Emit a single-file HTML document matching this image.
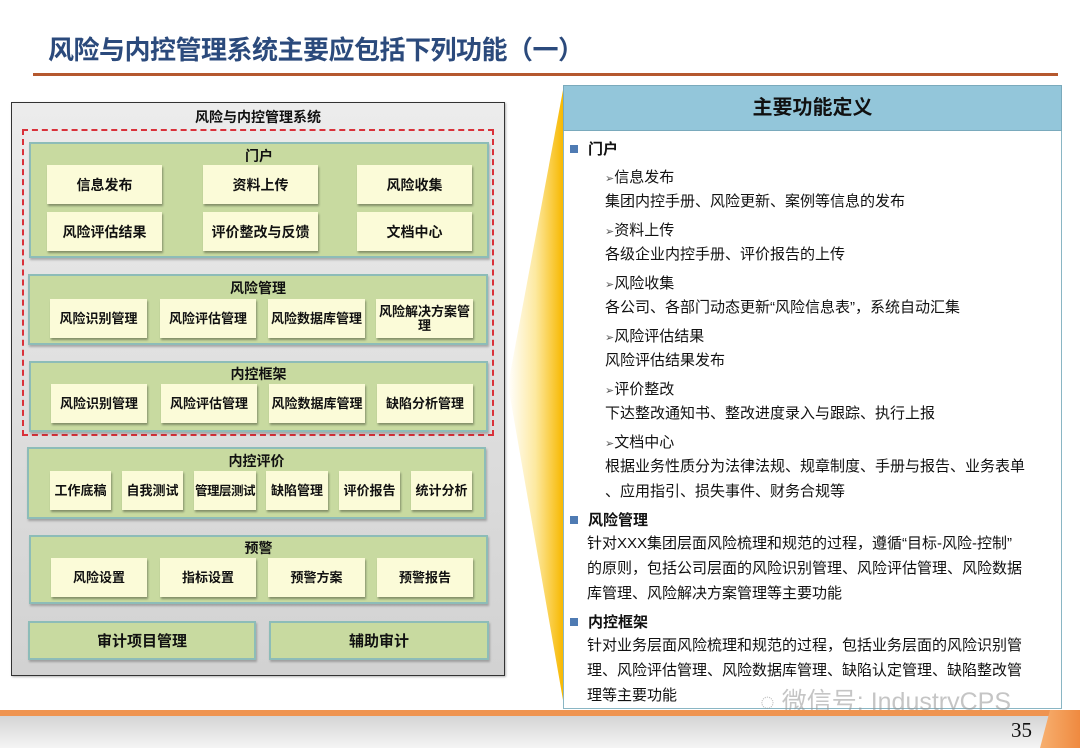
<!DOCTYPE html>
<html><head><meta charset="utf-8"><style>
*{margin:0;padding:0;box-sizing:border-box}
body{width:1080px;height:748px;position:relative;background:#fff;font-family:"Liberation Sans","Noto Sans CJK SC",sans-serif;overflow:hidden;color:#111}
.a{position:absolute}
.title{left:48px;top:30px;font-size:26px;font-weight:bold;color:#2b4a7c;letter-spacing:-0.5px}
.panel{position:absolute;background:#c8daa0;border:2px solid #8dbcb8;box-shadow:1px 2px 2px rgba(0,0,0,.25)}
.pl{position:absolute;left:0;right:0;text-align:center;font-weight:bold;font-size:14px}
.b{position:absolute;background:#fbfbd8;box-shadow:1px 2px 2px rgba(0,0,0,.35);display:flex;align-items:center;justify-content:center;text-align:center;font-weight:bold;font-size:13px;line-height:14px}
.big{font-size:14px}
.r{position:absolute;font-size:15px;color:#111;white-space:nowrap}
.h{font-weight:bold}
.sq{display:inline-block;width:8px;height:8px;background:#4f7bb3;margin-right:10px;vertical-align:1px}
</style></head><body>
<div class="a title">风险与内控管理系统主要应包括下列功能（一）</div>
<div class="a" style="left:33px;top:73px;width:1025px;height:3px;background:#b5582e"></div>

<svg class="a" style="left:500px;top:85px" width="70" height="625">
<defs><linearGradient id="g" x1="0" x2="1"><stop offset="0" stop-color="#fff"/><stop offset=".5" stop-color="#fde9a0"/><stop offset="1" stop-color="#f7b800"/></linearGradient></defs>
<polygon points="63,5 63,615 8,300" fill="url(#g)"/>
</svg>

<div class="a" style="left:11px;top:102px;width:494px;height:574px;background:linear-gradient(#ececec,#d2d2d2);border:1.5px solid #333;box-shadow:1px 1px 2px rgba(0,0,0,.3)"></div>
<div class="a" style="left:11px;top:107px;width:494px;text-align:center;font-weight:bold;font-size:14px">风险与内控管理系统</div>
<div class="a" style="left:22px;top:129px;width:472px;height:307px;border:2px dashed #d9313a"></div>

<div class="panel" style="left:29px;top:142px;width:460px;height:116px"><div class="pl" style="top:2px">门户</div></div>
<div class="b big" style="left:47px;top:165px;width:115px;height:39px">信息发布</div>
<div class="b big" style="left:203px;top:165px;width:115px;height:39px">资料上传</div>
<div class="b big" style="left:357px;top:165px;width:115px;height:39px">风险收集</div>
<div class="b big" style="left:47px;top:212px;width:115px;height:39px">风险评估结果</div>
<div class="b big" style="left:203px;top:212px;width:115px;height:39px">评价整改与反馈</div>
<div class="b big" style="left:357px;top:212px;width:115px;height:39px">文档中心</div>

<div class="panel" style="left:28px;top:274px;width:460px;height:71px"><div class="pl" style="top:2px">风险管理</div></div>
<div class="b" style="left:50px;top:299px;width:97px;height:39px">风险识别管理</div>
<div class="b" style="left:160px;top:299px;width:96px;height:39px">风险评估管理</div>
<div class="b" style="left:268px;top:299px;width:97px;height:39px">风险数据库管理</div>
<div class="b" style="left:376px;top:299px;width:97px;height:39px">风险解决方案管<br>理</div>

<div class="panel" style="left:29px;top:361px;width:459px;height:71px"><div class="pl" style="top:1px">内控框架</div></div>
<div class="b" style="left:51px;top:384px;width:96px;height:39px">风险识别管理</div>
<div class="b" style="left:161px;top:384px;width:96px;height:39px">风险评估管理</div>
<div class="b" style="left:269px;top:384px;width:96px;height:39px">风险数据库管理</div>
<div class="b" style="left:377px;top:384px;width:96px;height:39px">缺陷分析管理</div>

<div class="panel" style="left:27px;top:447px;width:459px;height:72px"><div class="pl" style="top:2px">内控评价</div></div>
<div class="b" style="left:50px;top:471px;width:61px;height:39px">工作底稿</div>
<div class="b" style="left:122px;top:471px;width:61px;height:39px">自我测试</div>
<div class="b" style="left:194px;top:471px;width:62px;height:39px;white-space:nowrap;font-size:12.5px;letter-spacing:-0.5px">管理层测试</div>
<div class="b" style="left:266px;top:471px;width:62px;height:39px">缺陷管理</div>
<div class="b" style="left:339px;top:471px;width:61px;height:39px">评价报告</div>
<div class="b" style="left:411px;top:471px;width:61px;height:39px">统计分析</div>

<div class="panel" style="left:29px;top:535px;width:459px;height:69px"><div class="pl" style="top:1px">预警</div></div>
<div class="b" style="left:51px;top:558px;width:96px;height:39px">风险设置</div>
<div class="b" style="left:160px;top:558px;width:96px;height:39px">指标设置</div>
<div class="b" style="left:268px;top:558px;width:97px;height:39px">预警方案</div>
<div class="b" style="left:377px;top:558px;width:96px;height:39px">预警报告</div>

<div class="panel" style="left:28px;top:621px;width:228px;height:39px;display:flex;align-items:center;justify-content:center;font-weight:bold;font-size:15px">审计项目管理</div>
<div class="panel" style="left:269px;top:621px;width:220px;height:39px;display:flex;align-items:center;justify-content:center;font-weight:bold;font-size:15px">辅助审计</div>

<div class="a" style="left:563px;top:85px;width:499px;height:624px;background:#fff;border:1.5px solid #8ab6c4"></div>
<div class="a" style="left:563px;top:85px;width:499px;height:46px;background:#93c6da;border:1.5px solid #7aaabc;text-align:center;line-height:44px;font-size:20px;font-weight:bold">主要功能定义</div>

<div class="r h" style="left:570px;top:138px"><span class="sq"></span>门户</div>
<div class="r" style="left:605px;top:166px"><span style="font-size:11px;color:#555">➢</span>信息发布</div>
<div class="r" style="left:605px;top:190px">集团内控手册、风险更新、案例等信息的发布</div>
<div class="r" style="left:605px;top:219px"><span style="font-size:11px;color:#555">➢</span>资料上传</div>
<div class="r" style="left:605px;top:243px">各级企业内控手册、评价报告的上传</div>
<div class="r" style="left:605px;top:272px"><span style="font-size:11px;color:#555">➢</span>风险收集</div>
<div class="r" style="left:605px;top:296px">各公司、各部门动态更新“风险信息表”，系统自动汇集</div>
<div class="r" style="left:605px;top:325px"><span style="font-size:11px;color:#555">➢</span>风险评估结果</div>
<div class="r" style="left:605px;top:349px">风险评估结果发布</div>
<div class="r" style="left:605px;top:378px"><span style="font-size:11px;color:#555">➢</span>评价整改</div>
<div class="r" style="left:605px;top:402px">下达整改通知书、整改进度录入与跟踪、执行上报</div>
<div class="r" style="left:605px;top:431px"><span style="font-size:11px;color:#555">➢</span>文档中心</div>
<div class="r" style="left:605px;top:455px">根据业务性质分为法律法规、规章制度、手册与报告、业务表单</div>
<div class="r" style="left:605px;top:480px">、应用指引、损失事件、财务合规等</div>
<div class="r h" style="left:570px;top:509px"><span class="sq"></span>风险管理</div>
<div class="r" style="left:587px;top:532px">针对XXX集团层面风险梳理和规范的过程，遵循“目标-风险-控制”</div>
<div class="r" style="left:587px;top:557px">的原则，包括公司层面的风险识别管理、风险评估管理、风险数据</div>
<div class="r" style="left:587px;top:582px">库管理、风险解决方案管理等主要功能</div>
<div class="r h" style="left:570px;top:611px"><span class="sq"></span>内控框架</div>
<div class="r" style="left:587px;top:634px">针对业务层面风险梳理和规范的过程，包括业务层面的风险识别管</div>
<div class="r" style="left:587px;top:659px">理、风险评估管理、风险数据库管理、缺陷认定管理、缺陷整改管</div>
<div class="r" style="left:587px;top:684px">理等主要功能</div>
<div class="a" style="left:760px;top:682px;font-size:25px;color:rgba(150,150,150,.55);white-space:nowrap">◌ 微信号: IndustryCPS</div>

<div class="a" style="left:0;top:710px;width:1080px;height:6px;background:#ef9450"></div>
<div class="a" style="left:0;top:716px;width:1080px;height:32px;background:linear-gradient(#d4d4d4,#f4f4f4)"></div>
<div class="a" style="left:1040px;top:710px;width:40px;height:38px;background:linear-gradient(90deg,#f7b070,#ef8a40);clip-path:polygon(25% 0,100% 0,100% 100%,0 100%)"></div>
<div class="a" style="left:1011px;top:718px;font-family:'Liberation Serif',serif;font-size:21px">35</div>
</body></html>
